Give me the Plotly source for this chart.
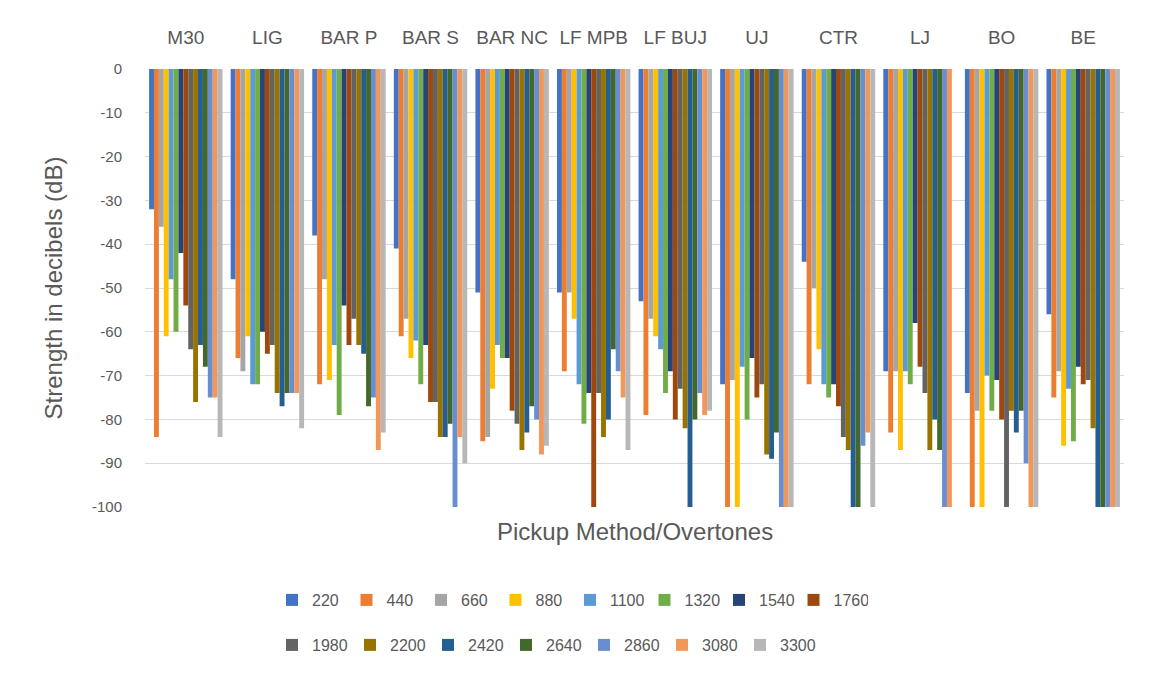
import plotly.graph_objects as go

# Pickup methods along the category axis
categories = ["M30", "LIG", "BAR P", "BAR S", "BAR NC", "LF MPB", "LF BUJ",
              "UJ", "CTR", "LJ", "BO", "BE"]

# Overtone frequencies (Hz), one series each
overtones = ["220", "440", "660", "880", "1100", "1320", "1540", "1760",
             "1980", "2200", "2420", "2640", "2860", "3080", "3300"]

# Strength in dB for each overtone, listed per pickup method
s220 = [-32, -48, -38, -41, -51, -51, -53, -72, -44, -69, -74, -56]
s440 = [-84, -66, -72, -61, -85, -69, -79, -100, -72, -83, -100, -75]
s660 = [-36, -69, -48, -57, -84, -51, -57, -71, -50, -69, -78, -69]
s880 = [-61, -61, -71, -66, -73, -57, -61, -100, -64, -87, -100, -86]
s1100 = [-48, -72, -63, -62, -63, -72, -64, -68, -72, -69, -70, -73]
s1320 = [-60, -72, -79, -72, -66, -81, -74, -80, -75, -72, -78, -85]
s1540 = [-42, -60, -54, -63, -66, -74, -69, -66, -72, -58, -71, -68]
s1760 = [-54, -65, -63, -76, -78, -100, -80, -75, -77, -68, -80, -72]
s1980 = [-64, -63, -57, -76, -81, -74, -73, -72, -84, -74, -100, -71]
s2200 = [-76, -74, -63, -84, -87, -84, -82, -88, -87, -87, -78, -82]
s2420 = [-63, -77, -65, -84, -83, -80, -100, -89, -100, -80, -83, -100]
s2640 = [-68, -74, -77, -81, -77, -64, -80, -83, -100, -87, -78, -100]
s2860 = [-75, -74, -75, -100, -80, -69, -74, -100, -86, -100, -90, -100]
s3080 = [-75, -74, -87, -84, -88, -75, -79, -100, -83, -100, -100, -100]
s3300 = [-84, -82, -83, -90, -86, -87, -78, -100, -100, None, -100, -100]

series = [s220, s440, s660, s880, s1100, s1320, s1540, s1760,
          s1980, s2200, s2420, s2640, s2860, s3080, s3300]

colors = ["#4472C4", "#ED7D31", "#A5A5A5", "#FFC000", "#5B9BD5", "#70AD47",
          "#264478", "#9E480E", "#636363", "#997300", "#255E91", "#43682B",
          "#698ED0", "#F1975A", "#B7B7B7"]

y_ticks = list(range(0, -101, -10))

W, H = 1151, 677
ML, MR, MT, MB = 145, 27, 69, 170
plot_w = W - ML - MR
plot_h = H - MT - MB

fig = go.Figure()
for i, (name, vals, col) in enumerate(zip(overtones, series, colors)):
    fig.add_trace(go.Bar(
        x=categories, y=vals, name=name,
        marker=dict(color=col, line=dict(width=0)),
        legend="legend" if i < 8 else "legend2",
    ))

text_color = "#595959"
font_family = "Liberation Sans, Arial, sans-serif"

legend_x = (272 - ML) / plot_w
legend_common = dict(
    orientation="h", xanchor="left", yanchor="middle", x=legend_x,
    font=dict(family=font_family, size=16, color=text_color),
    bgcolor="rgba(0,0,0,0)", entrywidthmode="pixels",
    itemwidth=30, itemclick=False, itemdoubleclick=False, tracegroupgap=0,
)

fig.update_layout(
    width=W, height=H,
    margin=dict(l=ML, r=MR, t=MT, b=MB, autoexpand=False),
    paper_bgcolor="white", plot_bgcolor="white",
    barmode="group", bargap=0.1, bargroupgap=0,
    font=dict(family=font_family, size=15, color=text_color),
    xaxis=dict(
        side="top", type="category", showgrid=False, showline=False,
        ticks="", ticklabelstandoff=20,
        tickfont=dict(family=font_family, size=19, color=text_color),
    ),
    yaxis=dict(
        range=[-100, 0], tickvals=y_ticks,
        ticktext=[str(v) for v in y_ticks],
        showgrid=True, gridcolor="#D9D9D9", gridwidth=1,
        zeroline=False, showline=False, ticks="", ticklabelstandoff=22,
        tickfont=dict(family=font_family, size=15, color=text_color),
        title=dict(text="Strength in decibels (dB)", standoff=22,
                   font=dict(family=font_family, size=24, color=text_color)),
    ),
    legend=dict(y=1 - (600 - MT) / plot_h, entrywidth=29.5, **legend_common),
    legend2=dict(y=1 - (645 - MT) / plot_h, entrywidth=33, **legend_common),
    showlegend=True,
)

fig.add_annotation(
    text="Pickup Method/Overtones", xref="paper", yref="paper",
    x=0.5, y=1 - (531 - MT) / plot_h, showarrow=False,
    xanchor="center", yanchor="middle",
    font=dict(family=font_family, size=24, color=text_color),
)

fig.write_html("out.html")
